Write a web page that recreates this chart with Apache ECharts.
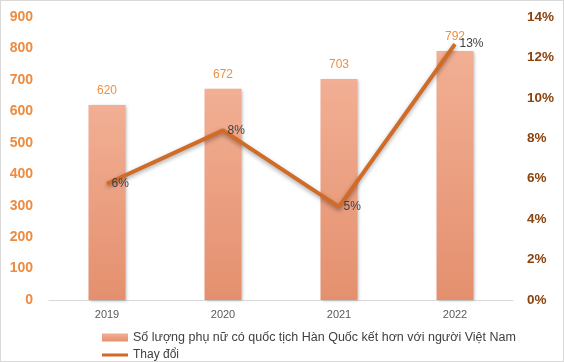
<!DOCTYPE html>
<html><head><meta charset="utf-8">
<script src="https://cdn.jsdelivr.net/npm/echarts@6/dist/echarts.min.js"></script>
<style>html,body{margin:0;padding:0;background:#fff}#c{width:562px;height:360px;border:1px solid #d9d9d9}</style>
</head><body><div id="c"></div>
<script>
const categories = ['2019','2020','2021','2022'];
const marriages = [620, 672, 703, 792];
const changePct = [5.75, 8.39, 4.61, 12.66];
const leftTicks = {min:0, max:900, interval:100};
const rightTicks = {min:0, max:14, interval:2};
const barName = 'Số lượng phụ nữ có quốc tịch Hàn Quốc kết hơn với người Việt Nam';
const lineName = 'Thay đổi';

const chart = echarts.init(document.getElementById('c'));
chart.setOption({
  animation:false,
  textStyle:{fontFamily:'Liberation Sans, Arial, sans-serif'},
  grid:{left:48, right:50, top:16, bottom:61},
  legend:[
    {left:96, top:325, itemWidth:26, itemHeight:8, itemGap:4,
     textStyle:{color:'#404040', fontSize:12.5},
     data:[{name:barName, icon:'rect'}]},
    {left:96, top:343, itemWidth:26, itemHeight:3, itemGap:4,
     textStyle:{color:'#404040', fontSize:12},
     data:[{name:lineName, icon:'rect', itemStyle:{color:'#D06B28', opacity:1}}]}
  ],
  xAxis:{type:'category', data:categories,
    axisLine:{lineStyle:{color:'#d9d9d9'}}, axisTick:{show:false},
    axisLabel:{color:'#595959', fontSize:11, margin:9}},
  yAxis:[
    {type:'value', min:leftTicks.min, max:leftTicks.max, interval:leftTicks.interval,
     splitLine:{show:false}, axisLine:{show:false},
     axisLabel:{color:'#EE8B3F', fontWeight:'bold', fontSize:14, margin:16}},
    {type:'value', min:rightTicks.min, max:rightTicks.max, interval:rightTicks.interval,
     splitLine:{show:false}, axisLine:{show:false},
     axisLabel:{color:'#8B430E', fontWeight:'bold', fontSize:13.5, margin:14, formatter:'{value}%'}}
  ],
  series:[
    {name:barName, type:'bar', data:marriages, barWidth:37,
     itemStyle:{color:new echarts.graphic.LinearGradient(0,0,0,1,[{offset:0,color:'#F2AF94'},{offset:1,color:'#E4906E'}]),
       shadowColor:'rgba(0,0,0,0.25)', shadowBlur:3, shadowOffsetX:1, shadowOffsetY:1},
     label:{show:true, position:'top', color:'#F0903F', fontSize:12, distance:8}},
    {name:lineName, type:'line', yAxisIndex:1, data:changePct, symbol:'circle', symbolSize:1, showSymbol:true,
     lineStyle:{color:'#D06B28', width:4, shadowColor:'rgba(0,0,0,0.35)', shadowBlur:4, shadowOffsetY:2},
     itemStyle:{color:'#D06B28', opacity:0},
     label:{show:true, position:'right', color:'#404040', fontSize:12, distance:4, opacity:1,
       formatter:p=>Math.round(p.value)+'%'}}
  ]
});
</script></body></html>
